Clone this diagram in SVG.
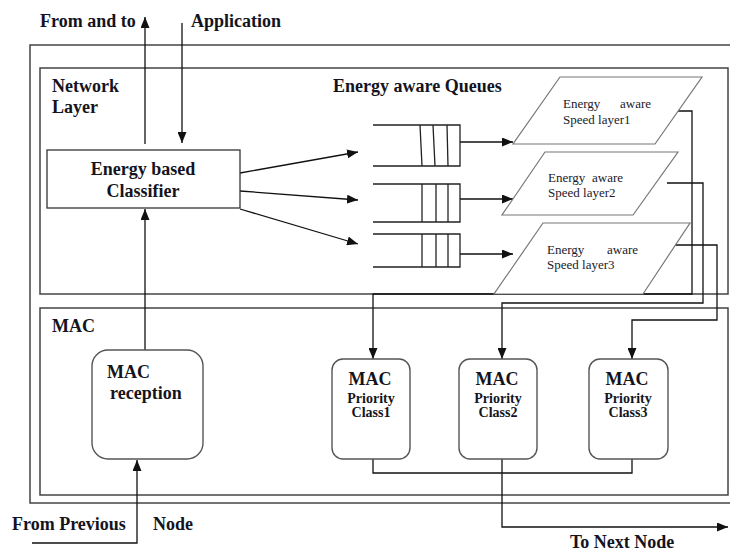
<svg xmlns="http://www.w3.org/2000/svg" width="730" height="551" viewBox="0 0 730 551">
<style>
.t{font-family:"Liberation Serif","Times New Roman",serif;font-weight:bold;font-size:18px;fill:#141420}
.s{font-family:"Liberation Serif","Times New Roman",serif;font-size:13px;fill:#1a1a2a}
.p{font-family:"Liberation Serif","Times New Roman",serif;font-weight:bold;font-size:14px;fill:#141420}
.box{fill:none;stroke:#444;stroke-width:1.5}
.node{fill:#fff;stroke:#333;stroke-width:1.3}
.rnd{fill:#fff;stroke:#555;stroke-width:1.4}
.par{fill:#fff;stroke:#777;stroke-width:1.2}
.q{fill:none;stroke:#222;stroke-width:1.3}
.c{fill:none;stroke:#111;stroke-width:1.3}
.a{fill:none;stroke:#111;stroke-width:1.3;marker-end:url(#ah)}
</style>
<defs>
<marker id="ah" markerUnits="userSpaceOnUse" markerWidth="11" markerHeight="9" refX="11" refY="4.5" orient="auto">
<path d="M0,0 L11,4.5 L0,9 z" fill="#111"/>
</marker>
</defs>
<rect width="730" height="551" fill="#fff"/>

<g id="frames">
<rect class="box" x="30" y="45" width="720" height="458"/>
<rect class="box" x="40" y="68" width="688" height="226"/>
<rect class="box" x="40" y="308" width="688" height="187"/>
<text class="t" x="52" y="92">Network</text>
<text class="t" x="52" y="113">Layer</text>
<text class="t" x="52" y="332">MAC</text>
<text class="t" x="333" y="92">Energy aware Queues</text>
</g>

<g id="labels">
<text class="t" x="40" y="27">From and to</text>
<text class="t" x="191" y="27">Application</text>
<text class="t" x="12" y="530">From Previous</text>
<text class="t" x="153" y="530">Node</text>
<text class="t" x="570" y="548">To Next Node</text>
</g>

<g id="connectors">
<line class="a" x1="145" y1="144" x2="145" y2="17"/>
<line class="a" x1="182" y1="23" x2="182" y2="143"/>
<line class="a" x1="145" y1="350" x2="145" y2="209"/>
<polyline class="a" points="32,543 137,543 137,460"/>
<line class="a" x1="240" y1="173" x2="358" y2="152"/>
<line class="a" x1="240" y1="191" x2="358" y2="200"/>
<line class="a" x1="240" y1="209" x2="358" y2="244"/>
<line class="a" x1="460" y1="142" x2="513" y2="142"/>
<line class="a" x1="460" y1="199" x2="513" y2="199"/>
<line class="a" x1="460" y1="254" x2="513" y2="254"/>
<polyline class="a" points="678,111 692,111 692,294 373,294 373,359"/>
<polyline class="a" points="667,183 703,183 703,303 502,303 502,359"/>
<polyline class="a" points="667,245 717,245 717,320 632,320 632,359"/>
<polyline class="c" points="373,459 373,473 632,473 632,459"/>
<polyline class="a" points="502,459 502,527 728,527"/>
</g>

<g id="classifier">
<rect class="node" x="47" y="150" width="193" height="58"/>
<text class="t" x="143" y="175" text-anchor="middle">Energy based</text>
<text class="t" x="143" y="197" text-anchor="middle">Classifier</text>
</g>

<g id="queue1">
<polyline class="q" points="373,125 460,125 460,166 373,166"/>
<line class="q" x1="420" y1="125" x2="422" y2="166"/>
<line class="q" x1="433" y1="125" x2="435" y2="166"/>
<line class="q" x1="447" y1="125" x2="448" y2="166"/>
</g>
<g id="queue2">
<polyline class="q" points="373,184 460,184 460,222 373,222"/>
<line class="q" x1="422" y1="184" x2="422" y2="222"/>
<line class="q" x1="436" y1="184" x2="436" y2="222"/>
<line class="q" x1="448" y1="184" x2="448" y2="222"/>
</g>
<g id="queue3">
<polyline class="q" points="373,234 460,234 460,267 373,267"/>
<line class="q" x1="422" y1="234" x2="422" y2="267"/>
<line class="q" x1="436" y1="234" x2="436" y2="267"/>
<line class="q" x1="448" y1="234" x2="448" y2="267"/>
</g>

<g id="speed1">
<polygon class="par" points="560,77 702,77 655,144 513,144"/>
<text class="s" y="108"><tspan x="563">Energy</tspan><tspan x="620">aware</tspan></text>
<text class="s" x="563" y="124">Speed layer1</text>
</g>
<g id="speed2">
<polygon class="par" points="545,152 678,152 633,215 502,215"/>
<text class="s" y="182"><tspan x="548">Energy</tspan><tspan x="592">aware</tspan></text>
<text class="s" x="548" y="197">Speed layer2</text>
</g>
<g id="speed3">
<polygon class="par" points="543,223 690,223 643,294 494,294"/>
<text class="s" y="254"><tspan x="547">Energy</tspan><tspan x="607">aware</tspan></text>
<text class="s" x="547" y="269">Speed layer3</text>
</g>

<g id="mac-reception">
<rect class="rnd" x="92" y="350" width="111" height="109" rx="16"/>
<text class="t" x="107" y="378">MAC</text>
<text class="t" x="110" y="399">reception</text>
</g>

<g id="mac-class1">
<rect class="rnd" x="332" y="359" width="78" height="100" rx="11"/>
<text class="t" x="370" y="385" text-anchor="middle">MAC</text>
<text class="p" x="371" y="403" text-anchor="middle">Priority</text>
<text class="p" x="371" y="417" text-anchor="middle">Class1</text>
</g>
<g id="mac-class2">
<rect class="rnd" x="459" y="359" width="78" height="100" rx="11"/>
<text class="t" x="497" y="385" text-anchor="middle">MAC</text>
<text class="p" x="498" y="403" text-anchor="middle">Priority</text>
<text class="p" x="498" y="417" text-anchor="middle">Class2</text>
</g>
<g id="mac-class3">
<rect class="rnd" x="589" y="359" width="79" height="100" rx="11"/>
<text class="t" x="627" y="385" text-anchor="middle">MAC</text>
<text class="p" x="628" y="403" text-anchor="middle">Priority</text>
<text class="p" x="628" y="417" text-anchor="middle">Class3</text>
</g>
</svg>
